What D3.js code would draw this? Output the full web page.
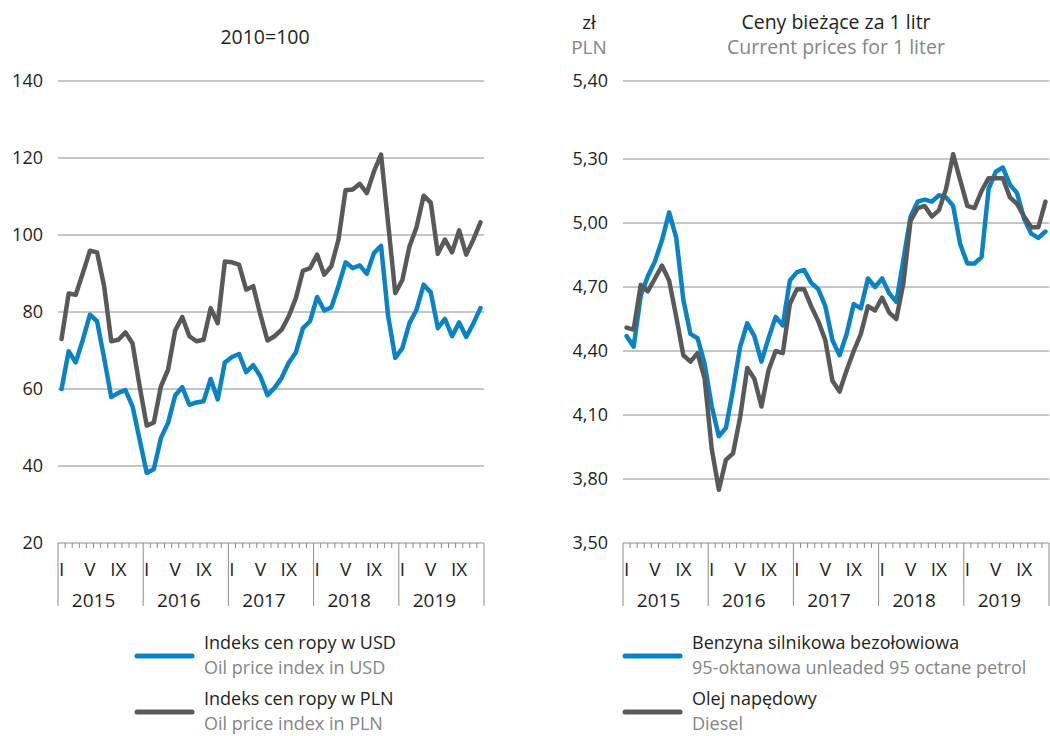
<html>
<head>
    <title>Ceny ropy i paliw</title>
    <script src="https://d3js.org/d3.v7.min.js"></script>
    <style>
        body { margin: 0; background: #fff; }
        text { font-family: "Open Sans", "Noto Sans", sans-serif; }
    </style>
</head>
<body>
<script>

// months Jan 2015 - Dec 2019
var years = ["2015", "2016", "2017", "2018", "2019"];
var monthLabels = ["I", "V", "IX"];
var monthLabelIdx = [0, 4, 8];

// left chart: 2010=100
var oilUSD = [60, 69.8, 66.9, 72.8, 79.3, 77.6, 68, 57.9, 59, 59.7,
              55.5, 46.8, 38.2, 39.2, 47.3, 51.2, 58.3, 60.5, 55.9, 56.5,
              56.8, 62.6, 57.3, 66.9, 68.3, 69.1, 64.4, 66.2, 63.3, 58.4,
              60.3, 62.9, 66.8, 69.5, 75.8, 77.6, 83.9, 80.4, 81.2, 86.7,
              92.9, 91.4, 92.1, 89.9, 95.3, 97.2, 78.9, 68.1, 70.6, 77.1,
              80.6, 87.1, 85.1, 75.8, 78.2, 73.7, 77.3, 73.5, 77, 81];
var oilPLN = [73, 84.8, 84.5, 90.1, 95.9, 95.5, 86.7, 72.4, 72.8, 74.7,
              71.8, 60.7, 50.5, 51.3, 60.7, 65, 75.2, 78.7, 73.7, 72.4,
              72.8, 81, 77.1, 93.1, 92.9, 92.3, 85.8, 86.7, 79.3, 72.6,
              73.7, 75.4, 78.9, 83.6, 90.7, 91.4, 94.9, 89.7, 91.9, 98.8,
              111.6, 111.8, 113.3, 110.9, 116.5, 120.9, 103, 84.9, 88.3, 97,
              102, 110.2, 108.4, 95.1, 98.8, 95.5, 101.2, 94.9, 98.8, 103.3];
var leftTicks = [20, 40, 60, 80, 100, 120, 140];

// right chart: zl per liter
var petrol = [4.47, 4.42, 4.66, 4.75, 4.82, 4.92, 5.05, 4.93, 4.64, 4.48,
              4.46, 4.34, 4.14, 4.00, 4.04, 4.22, 4.42, 4.53, 4.47, 4.35,
              4.46, 4.56, 4.52, 4.73, 4.77, 4.78, 4.72, 4.69, 4.61, 4.45,
              4.38, 4.48, 4.62, 4.60, 4.74, 4.70, 4.74, 4.67, 4.63, 4.83,
              5.03, 5.10, 5.11, 5.10, 5.13, 5.12, 5.08, 4.90, 4.81, 4.81,
              4.84, 5.16, 5.24, 5.26, 5.18, 5.14, 5.02, 4.95, 4.93, 4.96];
var diesel = [4.51, 4.50, 4.71, 4.68, 4.74, 4.80, 4.73, 4.56, 4.38, 4.35,
              4.39, 4.27, 3.94, 3.75, 3.89, 3.92, 4.09, 4.32, 4.27, 4.14,
              4.31, 4.40, 4.39, 4.62, 4.69, 4.69, 4.61, 4.54, 4.45, 4.26,
              4.21, 4.31, 4.40, 4.48, 4.61, 4.59, 4.65, 4.58, 4.55, 4.72,
              5.01, 5.07, 5.08, 5.03, 5.06, 5.16, 5.306, 5.20, 5.08, 5.07,
              5.15, 5.21, 5.21, 5.21, 5.12, 5.09, 5.03, 4.98, 4.98, 5.10];
var rightTicks = [3.50, 3.80, 4.10, 4.40, 4.70, 5.00, 5.30, 5.40];

var BLUE = "#0a82c6", GRAY = "#58595b", TXT = "#231f20", TXT2 = "#858585", GRID = "#8c8c8c";

var svg = d3.select("body").append("svg").attr("width", 1050).attr("height", 736);

var plFormat = d3.formatLocale({decimal: ",", thousands: " ", grouping: [3], currency: ["", " zł"]}).format(".2f");

function drawChart(g, x0, x1, y, ticks, fmt, series, colors) {
    var x = d3.scaleLinear().domain([0, 60]).range([x0, x1]);
    var yBottom = y(ticks[0]);

    // gridlines + y labels
    g.selectAll(".grid").data(ticks.slice(1)).enter().append("line")
        .attr("x1", x0).attr("x2", x1)
        .attr("y1", function(d){ return y(d); }).attr("y2", function(d){ return y(d); })
        .attr("stroke", GRID).attr("stroke-width", 1);
    g.selectAll(".ylab").data(ticks).enter().append("text")
        .attr("x", x0 - 15).attr("y", function(d){ return y(d); })
        .attr("dy", "0.35em").attr("text-anchor", "end")
        .attr("font-size", 18).attr("fill", TXT)
        .text(fmt);

    // x axis
    g.append("line").attr("x1", x0).attr("x2", x1).attr("y1", yBottom).attr("y2", yBottom)
        .attr("stroke", GRID).attr("stroke-width", 1);
    g.selectAll(".mtick").data(d3.range(61)).enter().append("line")
        .attr("x1", function(d){ return x(d); }).attr("x2", function(d){ return x(d); })
        .attr("y1", yBottom).attr("y2", function(d){ return d % 12 == 0 ? yBottom + 63 : yBottom + 5; })
        .attr("stroke", GRID).attr("stroke-width", 1);

    years.forEach(function(yr, k) {
        monthLabelIdx.forEach(function(m, j) {
            g.append("text").attr("x", x(k * 12 + m + 0.5)).attr("y", yBottom + 26)
                .attr("dy", "0.35em").attr("text-anchor", "middle")
                .attr("font-size", 19).attr("fill", TXT).text(monthLabels[j]);
        });
        g.append("text").attr("x", x(k * 12 + 6) - 7).attr("y", yBottom + 57)
            .attr("text-anchor", "middle").attr("dy", "0.35em")
            .attr("font-size", 19).attr("fill", TXT).text(yr);
    });

    var line = d3.line().x(function(d, i){ return x(i + 0.5); }).y(function(d){ return y(d); });
    series.forEach(function(s, k) {
        g.append("path").datum(s).attr("d", line)
            .attr("fill", "none").attr("stroke", colors[k]).attr("stroke-width", 4.5)
            .attr("stroke-linejoin", "round").attr("stroke-linecap", "round");
    });
}

function legend(g, x0, items) {
    items.forEach(function(it, k) {
        var yy = 656 + k * 56;
        g.append("line").attr("x1", x0).attr("x2", x0 + 55).attr("y1", yy).attr("y2", yy)
            .attr("stroke", it[0]).attr("stroke-width", 5).attr("stroke-linecap", "round");
        g.append("text").attr("x", x0 + 67).attr("y", yy - 13).attr("dy", "0.35em")
            .attr("font-size", 18).attr("fill", TXT).text(it[1]);
        g.append("text").attr("x", x0 + 67).attr("y", yy + 12).attr("dy", "0.35em")
            .attr("font-size", 18).attr("fill", TXT2).text(it[2]);
    });
}

// left chart
var gl = svg.append("g");
var yl = d3.scaleLinear().domain([20, 140]).range([543, 81]);
drawChart(gl, 58, 484, yl, leftTicks, function(d){ return d; }, [oilPLN, oilUSD], [GRAY, BLUE]);
gl.append("text").attr("x", 265).attr("y", 37).attr("dy", "0.35em").attr("text-anchor", "middle")
    .attr("font-size", 19.5).attr("fill", TXT).text("2010=100");
legend(gl, 137, [[BLUE, "Indeks cen ropy w USD", "Oil price index in USD"],
                 [GRAY, "Indeks cen ropy w PLN", "Oil price index in PLN"]]);

// right chart (top gridline spacing differs from the rest)
var gr = svg.append("g");
var yr = d3.scaleLinear().domain([3.5, 5.3, 5.4]).range([543, 159, 81]);
drawChart(gr, 623, 1049, yr, rightTicks, plFormat, [petrol, diesel], [BLUE, GRAY]);
gr.append("text").attr("x", 836).attr("y", 22).attr("dy", "0.35em").attr("text-anchor", "middle")
    .attr("font-size", 19.5).attr("fill", TXT).text("Ceny bieżące za 1 litr");
gr.append("text").attr("x", 836).attr("y", 47).attr("dy", "0.35em").attr("text-anchor", "middle")
    .attr("font-size", 19.5).attr("fill", TXT2).text("Current prices for 1 liter");
gr.append("text").attr("x", 589).attr("y", 22).attr("dy", "0.35em").attr("text-anchor", "middle")
    .attr("font-size", 19).attr("fill", TXT).text("zł");
gr.append("text").attr("x", 589).attr("y", 47).attr("dy", "0.35em").attr("text-anchor", "middle")
    .attr("font-size", 19).attr("fill", TXT2).text("PLN");
legend(gr, 625, [[BLUE, "Benzyna silnikowa bezołowiowa", "95-oktanowa unleaded 95 octane petrol"],
                 [GRAY, "Olej napędowy", "Diesel"]]);

</script>
</body>
</html>
